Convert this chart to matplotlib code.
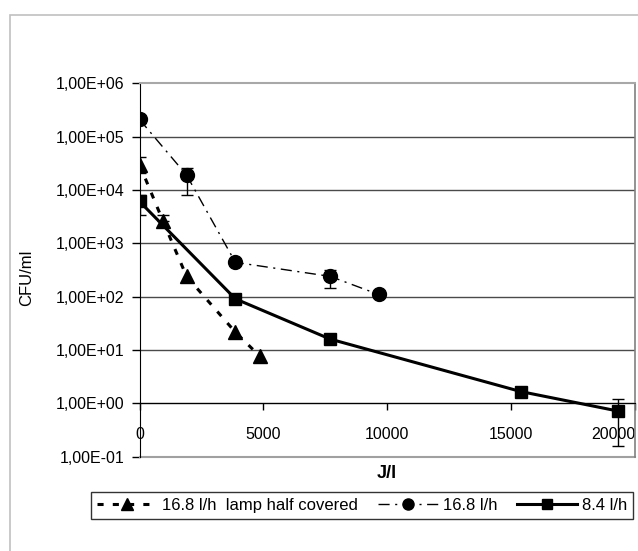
import numpy as np
import matplotlib
matplotlib.use("Agg")
import matplotlib.pyplot as plt
from matplotlib.ticker import FuncFormatter, FixedLocator
from matplotlib.patches import Rectangle

plt.rcParams['font.family'] = ['Liberation Sans', 'DejaVu Sans']

# ---- data ----
labels = ["16.8 l/h  lamp half covered", "16.8 l/h", "8.4 l/h"]

tri_x = [0, 950, 1900, 3870, 4850]
tri_y = [3.0e4, 2.6e3, 2.4e2, 21.6, 7.7]
tri_lo = [2.1e4, 2.6e3, 2.4e2, 21.6, 7.7]
tri_hi = [4.2e4, 3.4e3, 2.4e2, 21.6, 7.7]

circ_x = [0, 1900, 3870, 7700, 9650]
circ_y = [2.1e5, 1.9e4, 4.4e2, 2.4e2, 1.1e2]
circ_lo = [1.8e5, 8.1e3, 4.4e2, 1.45e2, 1.1e2]
circ_hi = [2.3e5, 2.6e4, 4.4e2, 3.2e2, 1.1e2]

sq_x = [0, 3870, 7700, 15400, 19300]
sq_y = [6.1e3, 91, 16, 1.66, 0.72]
sq_lo = [3.4e3, 91, 16, 1.66, 0.16]
sq_hi = [8.0e3, 91, 16, 1.66, 1.19]

y_ticks = [1e-1, 1e0, 1e1, 1e2, 1e3, 1e4, 1e5, 1e6]
x_ticks = [0, 5000, 10000, 15000, 20000]

W, H = 638, 551
fig = plt.figure(figsize=(W / 100, H / 100), dpi=100)

# outer chart border
fig.patches.append(Rectangle((10 / W, -0.1), 1.2, 1 - 15 / H + 0.1, transform=fig.transFigure,
                             fill=False, edgecolor='#c0c0c0', lw=1.2))

ax = fig.add_axes([139.5 / W, 1 - 456.7 / H, (635 - 139.5) / W, (456.7 - 83.3) / H])
ax.set_yscale('log')
ax.set_ylim(1e-1, 1e6)
ax.set_xlim(0, 20000)

# gridlines
for yv in y_ticks[1:-1]:
    ax.axhline(yv, color='#4a4a4a', lw=1.0, zorder=1)


def draw_err(x, y, lo, hi):
    x = np.array(x); y = np.array(y); lo = np.array(lo); hi = np.array(hi)
    m = (hi - lo) > 0
    ax.errorbar(x[m], y[m], yerr=[y[m] - lo[m], hi[m] - y[m]], fmt='none',
                ecolor='black', elinewidth=1.0, capsize=4.5, capthick=1.0, zorder=3)


draw_err(tri_x, tri_y, tri_lo, tri_hi)
draw_err(circ_x, circ_y, circ_lo, circ_hi)
draw_err(sq_x, sq_y, sq_lo, sq_hi)

l1, = ax.plot(tri_x, tri_y, color='black', lw=2.2, linestyle=(0, (2.0, 3.0)),
              marker='^', markersize=10, label=labels[0], zorder=4)
l2, = ax.plot(circ_x, circ_y, color='black', lw=1.0, linestyle=(0, (8, 4, 1.5, 4)),
              marker='o', markersize=10, label=labels[1], zorder=4)
l3, = ax.plot(sq_x, sq_y, color='black', lw=2.2, linestyle='-',
              marker='s', markersize=9, label=labels[2], zorder=4)

# spines
ax.spines['bottom'].set_position(('data', 1.0))
ax.spines['bottom'].set_color('black')
ax.spines['left'].set_color('black')
ax.spines['top'].set_color('#a8a8a8')
ax.spines['top'].set_linewidth(1.5)
ax.spines['right'].set_color('#808080')
ax.spines['right'].set_linewidth(1.2)
ax.axhline(1e-1, color='#a0a0a0', lw=1.5, clip_on=False, zorder=2)

ax.yaxis.set_major_locator(FixedLocator(y_ticks))
ax.yaxis.set_minor_locator(FixedLocator([]))
ax.yaxis.set_major_formatter(FuncFormatter(lambda v, p: f"{v:.2E}".replace('.', ',')))
ax.tick_params(axis='y', which='major', length=6, width=1, labelsize=11.5, pad=5, direction='out')

ax.xaxis.set_major_locator(FixedLocator(x_ticks))
ax.tick_params(axis='x', which='major', length=5, width=1, labelsize=11.5, pad=12, direction='out')
ax.set_xticklabels([str(v) for v in x_ticks])
lbls = ax.get_xticklabels()
lbls[-1].set_ha('right')

fig.text(27 / W, 1 - 278 / H, "CFU/ml", rotation=90, ha='center', va='center', fontsize=12)
fig.text(387 / W, 1 - 474 / H, "J/l", ha='center', va='center', fontsize=13, fontweight='bold')

leg = fig.legend(handles=[l1, l2, l3], labels=labels, loc='center', ncol=3,
                 bbox_to_anchor=(362 / W, 1 - 505.5 / H), bbox_transform=fig.transFigure,
                 frameon=True, fancybox=False, edgecolor='black', fontsize=12,
                 handlelength=3.6, handletextpad=0.3, columnspacing=1.2, borderpad=0.35,
                 markerscale=0.8)
leg.get_frame().set_linewidth(1.0)

fig.savefig("out.png", dpi=100)
